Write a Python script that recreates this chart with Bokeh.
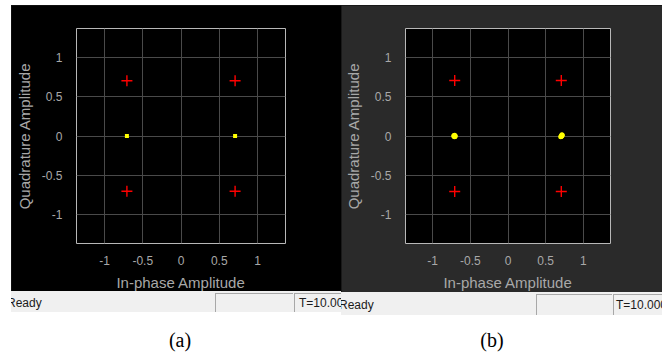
from bokeh.plotting import figure
from bokeh.layouts import column, row
from bokeh.models import Div, Spacer, FixedTicker, CustomJSTickFormatter, Range1d
from bokeh.embed import file_html
from bokeh.resources import INLINE

# ---- data ----
ticks = [-1, -0.5, 0, 0.5, 1]
ref_i = [-0.7071, 0.7071, -0.7071, 0.7071]
ref_q = [0.7071, 0.7071, -0.7071, -0.7071]
# (a) received symbols
a_i = [-0.7071, 0.7071]
a_q = [0.0, 0.0]
# (b) received symbols (small clusters)
b_i = [-0.715, -0.705, -0.700, -0.710, -0.720, -0.708, 0.700, 0.710, 0.720, 0.715, 0.705, 0.712]
b_q = [0.005, -0.005, 0.000, -0.010, 0.000, 0.008, -0.010, 0.000, 0.010, 0.015, -0.005, 0.004]

x_label = "In-phase Amplitude"
y_label = "Quadrature Amplitude"


def make_panel(width, height, left, right, top, bottom, xr, yr, bg, pts_i, pts_q, pt_marker, pt_size):
    p = figure(width=width, height=height, output_backend="svg", toolbar_location=None,
               x_range=Range1d(-xr, xr), y_range=Range1d(-yr, yr),
               min_border_left=left, min_border_right=right,
               min_border_top=top, min_border_bottom=bottom)
    p.background_fill_color = "#000000"
    p.border_fill_color = bg
    p.outline_line_color = "#b8b8b8"
    p.outline_line_width = 1
    for ax in (p.xaxis[0], p.yaxis[0]):
        ax.ticker = FixedTicker(ticks=ticks)
        ax.formatter = CustomJSTickFormatter(code="return tick.toString();")
        ax.axis_line_color = None
        ax.major_tick_line_color = None
        ax.minor_tick_line_color = None
        ax.major_label_text_color = "#a8a8a8"
        ax.major_label_text_font = "Liberation Sans"
        ax.major_label_text_font_size = "12px"
        ax.axis_label_text_color = "#a8a8a8"
        ax.axis_label_text_font = "Liberation Sans"
        ax.axis_label_text_font_size = "15px"
        ax.axis_label_text_font_style = "normal"
    p.xaxis.axis_label = x_label
    p.yaxis.axis_label = y_label
    p.xaxis.major_label_standoff = 6
    p.xaxis.axis_label_standoff = 6
    p.yaxis.major_label_standoff = 8
    p.yaxis.axis_label_standoff = 6
    p.xgrid.grid_line_color = "#4a4a4a"
    p.ygrid.grid_line_color = "#4a4a4a"
    p.xgrid.grid_line_width = 1
    p.ygrid.grid_line_width = 1
    p.scatter(ref_i, ref_q, marker="cross", size=11, line_color="#ff0000", line_width=1.4)
    p.scatter(pts_i, pts_q, marker=pt_marker, size=pt_size, fill_color="#ffff00",
              line_color="#ffff00", line_width=0)
    return p


pa = make_panel(330, 288, 65, 56, 23, 46, 1.366, 1.375, "#000000", a_i, a_q, "square", 4)
pb = make_panel(321, 288, 64, 52, 20, 46, 1.36, 1.37, "#2a2a2a", b_i, b_q, "circle", 5)

font = "font-family:'Liberation Sans',Arial,sans-serif;"
status = f'''
<div style="position:relative;width:668px;height:61px;margin:0;padding:0;overflow:visible;">
 <div style="position:absolute;left:11px;top:-2px;width:330px;height:21px;background:#f0f0f0;overflow:hidden;{font}">
   <span style="position:absolute;left:-4px;top:4px;font-size:12px;color:#1a1a1a;white-space:nowrap;">Ready</span>
   <div style="position:absolute;left:204px;top:2px;width:78px;height:19px;border-left:1px solid #a8a8a8;border-top:1px solid #a8a8a8;"></div>
   <div style="position:absolute;left:283px;top:2px;width:60px;height:19px;border-left:1px solid #a8a8a8;border-top:1px solid #a8a8a8;"></div>
   <span style="position:absolute;left:288px;top:4px;font-size:12px;color:#1a1a1a;white-space:nowrap;">T=10.000</span>
 </div>
 <div style="position:absolute;left:341px;top:-1px;width:321px;height:23px;background:#f0f0f0;overflow:hidden;{font}">
   <span style="position:absolute;left:-2px;top:5px;font-size:12px;color:#1a1a1a;white-space:nowrap;">Ready</span>
   <div style="position:absolute;left:195px;top:2px;width:76px;height:21px;border-left:1px solid #a8a8a8;border-top:1px solid #a8a8a8;"></div>
   <div style="position:absolute;left:272px;top:2px;width:60px;height:21px;border-left:1px solid #a8a8a8;border-top:1px solid #a8a8a8;"></div>
   <span style="position:absolute;left:275px;top:5px;font-size:12px;color:#1a1a1a;white-space:nowrap;">T=10.000</span>
 </div>
 <div style="position:absolute;left:130px;top:36px;width:100px;text-align:center;font-family:'Liberation Serif','Times New Roman',serif;font-size:20px;line-height:22px;color:#000;">(a)</div>
 <div style="position:absolute;left:442px;top:36px;width:100px;text-align:center;font-family:'Liberation Serif','Times New Roman',serif;font-size:20px;line-height:22px;color:#000;">(b)</div>
</div>
'''
bottom_div = Div(text=status, width=668, height=61, margin=0)

panels = row(pa, pb, styles={"background-color": "#151515"})
layout = column(Spacer(width=668, height=5),
                row(Spacer(width=11, height=288), panels),
                bottom_div)

open("out.html", "w").write(file_html(layout, INLINE))
